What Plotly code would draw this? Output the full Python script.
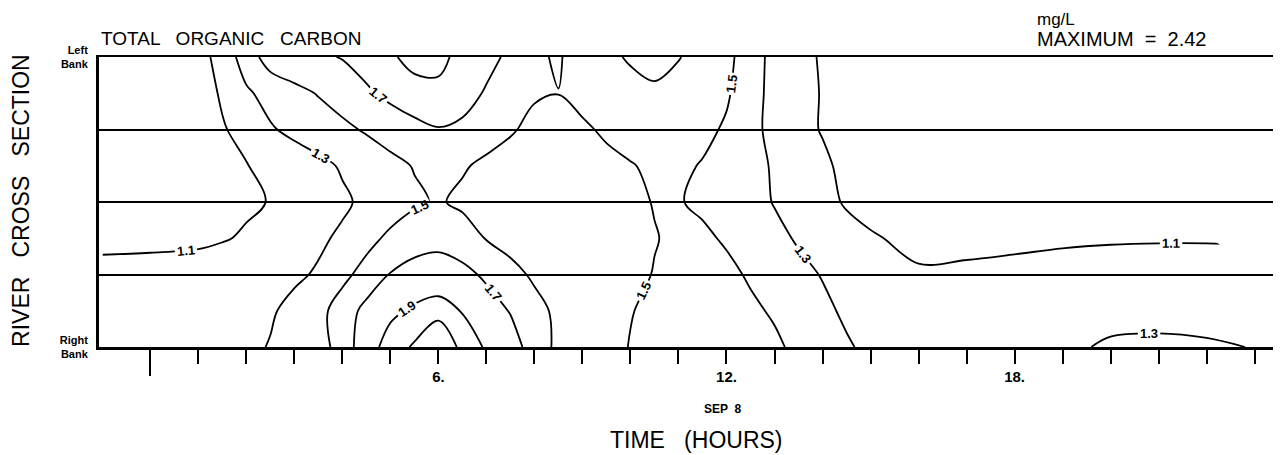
import plotly.graph_objects as go

# Time since midnight, Sep 8 (hours) and position across the river
# (0 = right bank, 4 = left bank; the ruled lines are at 1, 2, 3)
HOURS = [-1, 0, 1, 1.5, 2, 2.5, 3, 3.5, 4, 4.5, 5, 5.5, 6, 6.5, 7, 7.5, 8, 8.5, 9, 9.5,
         10, 10.5, 11, 11.5, 12, 12.5, 13, 13.5, 14, 14.5, 15, 16, 17, 18, 19, 20, 21, 22, 23, 24]
BANK = [0, 0.5, 1, 1.5, 2, 2.5, 3, 3.5, 4]

# Total organic carbon (mg/L), one row per cross-section position.
# None = no sample (the 1.1 line stops there in the original plot)
TOC_B00 = [1.22, 1.22, 1.23, 1.24, 1.26, 1.31, 1.35, 1.40, 1.60, 1.81, 1.98, 2.13, 2.42, 2.00,
           1.88, 1.78, 1.62, 1.45, 1.40, 1.42, 1.51, 1.57, 1.60, 1.60, 1.59, 1.56, 1.53, 1.46,
           1.39, 1.32, 1.26, 1.22, 1.20, 1.21, 1.27, 1.32, 1.33, 1.32, 1.295, 1.25]
TOC_B05 = [1.20, 1.20, 1.21, 1.22, 1.24, 1.28, 1.35, 1.44, 1.59, 1.76, 1.86, 1.93, 1.98, 1.89,
           1.78, 1.69, 1.56, 1.46, 1.40, 1.41, 1.49, 1.55, 1.58, 1.58, 1.56, 1.53, 1.48, 1.41,
           1.34, 1.27, 1.22, 1.18, 1.18, 1.19, 1.22, 1.25, 1.25, 1.24, 1.20, 1.18]
TOC_B10 = [1.16, 1.16, 1.17, 1.18, 1.20, 1.23, 1.27, 1.32, 1.45, 1.57, 1.71, 1.77, 1.78, 1.75,
           1.67, 1.56, 1.47, 1.41, 1.38, 1.39, 1.44, 1.51, 1.54, 1.55, 1.54, 1.48, 1.40, 1.35,
           1.29, 1.22, 1.17, 1.117, 1.12, 1.125, 1.126, 1.132, 1.137, 1.137, 1.14, 1.14]
TOC_B15 = [1.05, 1.06, 1.07, 1.09, 1.115, 1.18, 1.23, 1.27, 1.33, 1.44, 1.54, 1.62, 1.65, 1.60,
           1.49, 1.43, 1.39, 1.37, 1.37, 1.40, 1.45, 1.49, 1.54, 1.53, 1.48, 1.42, 1.35, 1.28,
           1.22, 1.17, 1.115, 1.06, 1.07, 1.08, 1.09, 1.093, 1.094, 1.094, None, None]
TOC_B20 = [1.00, 1.02, 1.05, 1.07, 1.08, 1.105, 1.15, 1.21, 1.27, 1.34, 1.40, 1.47, 1.52, 1.46,
           1.41, 1.38, 1.36, 1.35, 1.36, 1.40, 1.45, 1.51, 1.51, 1.47, 1.42, 1.37, 1.29, 1.22,
           1.16, 1.08, 1.05, 1.02, 1.01, 1.00, 1.00, 1.00, 1.00, 1.00, None, None]
TOC_B25 = [0.99, 1.01, 1.04, 1.07, 1.095, 1.14, 1.19, 1.25, 1.32, 1.38, 1.45, 1.51, 1.55, 1.52,
           1.46, 1.42, 1.39, 1.38, 1.40, 1.45, 1.49, 1.53, 1.53, 1.49, 1.42, 1.36, 1.28, 1.20,
           1.13, 1.06, 1.03, 1.01, 1.00, 1.00, 0.99, 0.99, 0.99, 0.99, None, None]
TOC_B30 = [0.97, 1.00, 1.05, 1.09, 1.14, 1.28, 1.35, 1.41, 1.46, 1.52, 1.58, 1.64, 1.69, 1.66,
           1.59, 1.52, 1.45, 1.42, 1.47, 1.53, 1.57, 1.58, 1.57, 1.54, 1.48, 1.38, 1.22, 1.15,
           1.09, 1.05, 1.02, 1.00, 0.99, 0.98, 0.98, 0.98, 0.98, 0.98, None, None]
TOC_B35 = [0.96, 0.99, 1.04, 1.115, 1.27, 1.37, 1.45, 1.51, 1.58, 1.67, 1.75, 1.82, 1.84, 1.78,
           1.68, 1.60, 1.52, 1.503, 1.56, 1.60, 1.64, 1.66, 1.62, 1.57, 1.52, 1.40, 1.22, 1.16,
           1.09, 1.04, 1.01, 0.99, 0.98, 0.97, 0.97, 0.97, 0.97, 0.97, None, None]
TOC_B40 = [0.95, 0.98, 1.03, 1.17, 1.40, 1.59, 1.63, 1.67, 1.71, 1.78, 1.87, 1.97, 1.97, 1.82,
           1.76, 1.66, 1.53, 1.48, 1.60, 1.66, 1.72, 1.78, 1.71, 1.62, 1.54, 1.42, 1.22, 1.16,
           1.08, 1.03, 1.00, 0.98, 0.97, 0.96, 0.96, 0.96, 0.96, 0.96, None, None]

TOC = [TOC_B00, TOC_B05, TOC_B10, TOC_B15, TOC_B20, TOC_B25, TOC_B30, TOC_B35, TOC_B40]

# Axis ticks
HOUR_TICKS = list(range(0, 24))
HOUR_LABELS = {6: "6.", 12: "12.", 18: "18."}
BANK_TICKS = [0, 1, 2, 3, 4]
BANK_LABELS = ["Right<br>Bank", "", "", "", "Left<br>Bank"]

X_RANGE = [-1.07, 23.55]


def build_figure():
    fig = go.Figure()

    fig.add_trace(go.Contour(
        x=HOURS,
        y=BANK,
        z=TOC,
        connectgaps=False,
        autocontour=False,
        contours=dict(
            start=1.1, end=2.1, size=0.2,
            coloring="none",
            showlabels=True,
            labelformat=".1f",
            labelfont=dict(family="Arial", size=13, color="black", weight="bold"),
        ),
        line=dict(color="black", width=1.8, smoothing=1.0),
        showscale=False,
        hoverinfo="skip",
    ))

    # empty helpers so the extra x axes (midnight tick, top rule) get drawn
    for ax in ("x2", "x3"):
        fig.add_trace(go.Scatter(
            x=HOUR_TICKS[:1], y=BANK_TICKS[:1], xaxis=ax, yaxis="y",
            mode="markers", marker=dict(opacity=0), hoverinfo="skip", showlegend=False,
        ))

    # the page body adds an 8px offset, so the figure is 8px smaller than the window
    fig.update_layout(
        width=1273,
        height=447,
        margin=dict(l=91, r=0, t=49, b=108),
        paper_bgcolor="white",
        plot_bgcolor="white",
        font=dict(family="Arial", color="black"),
        showlegend=False,
        xaxis=dict(
            range=X_RANGE,
            showline=True, linewidth=3, linecolor="black",
            ticks="outside", ticklen=14, tickwidth=2, tickcolor="black",
            tickvals=HOUR_TICKS,
            ticktext=[HOUR_LABELS.get(h, "") for h in HOUR_TICKS],
            tickfont=dict(size=15, weight="bold"),
            showgrid=False, zeroline=False,
        ),
        # longer tick at midnight
        xaxis2=dict(
            range=X_RANGE, overlaying="x", anchor="y", side="bottom",
            ticks="outside", ticklen=28, tickwidth=2, tickcolor="black",
            tickvals=[0], showticklabels=False,
            showline=False, showgrid=False, zeroline=False,
        ),
        # thin rule along the left bank
        xaxis3=dict(
            range=X_RANGE, overlaying="x", anchor="y", side="top",
            showline=True, linewidth=1.6, linecolor="black",
            ticks="", showticklabels=False, showgrid=False, zeroline=False,
        ),
        yaxis=dict(
            range=[0, 4],
            showline=True, linewidth=3, linecolor="black",
            ticks="",
            tickvals=BANK_TICKS, ticktext=BANK_LABELS,
            tickfont=dict(size=11, weight="bold"),
            ticklabelstandoff=6,
            showgrid=True, gridcolor="black", gridwidth=1.6,
            zeroline=False,
        ),
    )

    notes = [
        dict(text="TOTAL   ORGANIC   CARBON", x=0.0, y=1.0655, xanchor="left",
             font=dict(size=19)),
        dict(text="mg/L", x=0.7919, y=1.13, xanchor="left", font=dict(size=17)),
        dict(text="MAXIMUM  =  2.42", x=0.7919, y=1.062, xanchor="left",
             font=dict(size=20)),
        dict(text="SEP  8", x=0.5279, y=-0.2138, xanchor="center",
             font=dict(size=12, weight="bold")),
        dict(text="TIME   (HOURS)", x=0.5051, y=-0.3207, xanchor="center",
             font=dict(size=23)),
        dict(text="RIVER   CROSS   SECTION", x=-0.066, y=0.507, xanchor="center",
             textangle=-90, font=dict(size=23)),
    ]
    for n in notes:
        fig.add_annotation(xref="paper", yref="paper", yanchor="middle",
                           showarrow=False, **n)

    return fig


fig = build_figure()
fig.write_html("out.html")
